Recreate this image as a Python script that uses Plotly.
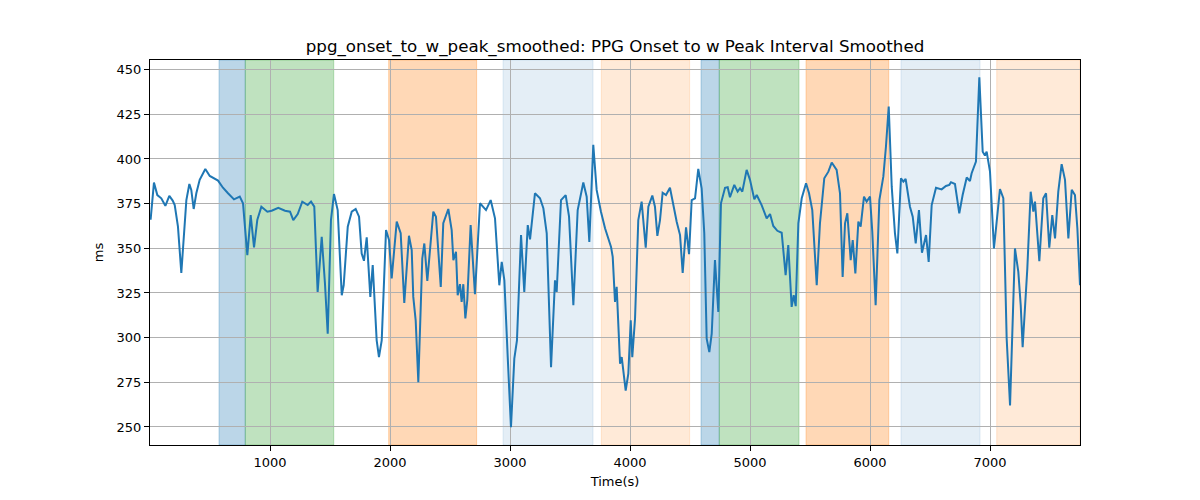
import plotly.graph_objects as go

# Time (s) and smoothed interval values (ms)
time_s = [5, 33, 61, 94, 128, 161, 189, 206, 233, 261, 303, 328, 344, 364, 386, 414, 461, 498, 567, 608,
          650, 700, 748, 775, 811, 839, 867, 894, 928, 978, 1014, 1069, 1125, 1167, 1194, 1231, 1269, 1314, 1342, 1369,
          1397, 1431, 1458, 1481, 1508, 1533, 1564, 1598, 1614, 1648, 1681, 1714, 1742, 1764, 1783, 1806, 1836, 1856, 1889, 1908,
          1931, 1967, 1992, 2014, 2056, 2089, 2119, 2158, 2181, 2194, 2214, 2236, 2269, 2286, 2311, 2328, 2361, 2383, 2423, 2444,
          2486, 2514, 2528, 2550, 2564, 2583, 2597, 2611, 2628, 2644, 2672, 2708, 2750, 2800, 2839, 2875, 2911, 2931, 2953, 2981,
          3008, 3036, 3058, 3092, 3119, 3148, 3167, 3208, 3250, 3278, 3306, 3342, 3375, 3389, 3425, 3464, 3492, 3528, 3564, 3611,
          3639, 3661, 3694, 3722, 3758, 3792, 3842, 3856, 3875, 3889, 3917, 3931, 3944, 3964, 3986, 4006, 4019, 4042, 4069, 4097,
          4131, 4153, 4186, 4208, 4228, 4250, 4272, 4300, 4333, 4361, 4389, 4417, 4439, 4467, 4492, 4514, 4542, 4569, 4597, 4619,
          4639, 4661, 4681, 4708, 4736, 4758, 4792, 4814, 4833, 4869, 4897, 4917, 4936, 4972, 5000, 5036, 5056, 5097, 5139, 5167,
          5194, 5228, 5264, 5297, 5319, 5347, 5364, 5381, 5403, 5431, 5467, 5492, 5519, 5556, 5583, 5619, 5653, 5681, 5722, 5750,
          5772, 5792, 5811, 5839, 5856, 5878, 5903, 5922, 5950, 5972, 6000, 6019, 6047, 6078, 6111, 6133, 6156, 6181, 6208, 6228,
          6250, 6258, 6278, 6297, 6333, 6356, 6381, 6408, 6433, 6453, 6467, 6489, 6514, 6550, 6597, 6633, 6661, 6675, 6708, 6744,
          6772, 6806, 6833, 6847, 6883, 6911, 6939, 6958, 6972, 7000, 7033, 7050, 7083, 7111, 7139, 7167, 7208, 7236, 7256, 7272,
          7294, 7311, 7339, 7361, 7375, 7411, 7444, 7467, 7494, 7519, 7542, 7569, 7597, 7625, 7653, 7681, 7708, 7728, 7750]

interval_ms = [366.0, 386.8, 379.8, 378.0, 373.8, 379.3, 376.7, 374.2, 362.1, 336.2, 377.0, 386.0, 382.7, 372.0, 380.8, 388.3, 394.4, 390.5, 387.9, 383.9,
               380.8, 377.4, 378.9, 375.2, 346.2, 368.6, 350.5, 365.8, 373.3, 370.5, 371.0, 372.7, 371.0, 370.5, 365.8, 369.2, 376.1, 374.2, 376.1, 373.3,
               325.6, 356.4, 330.3, 302.2, 365.8, 380.4, 371.4, 323.7, 329.3, 362.1, 370.5, 372.0, 367.7, 347.1, 343.0, 356.1, 322.8, 340.6, 298.5, 289.1,
               298.5, 360.2, 354.6, 333.1, 364.9, 358.4, 319.4, 357.0, 349.0, 322.8, 309.7, 275.1, 344.3, 352.7, 331.8, 343.9, 370.5, 367.7, 328.4, 364.0,
               372.0, 360.2, 343.4, 348.0, 323.7, 329.9, 320.0, 329.9, 310.7, 320.9, 363.0, 324.3, 375.2, 371.4, 377.0, 366.8, 329.3, 342.4, 332.1, 289.1,
               249.8, 288.2, 298.5, 357.4, 325.6, 363.0, 355.0, 380.8, 378.0, 372.4, 358.4, 283.5, 332.1, 325.6, 377.0, 379.8, 367.7, 318.1, 371.4, 386.8,
               378.9, 353.6, 407.9, 382.7, 370.5, 361.2, 350.8, 345.2, 320.0, 328.4, 285.4, 289.1, 281.6, 270.4, 279.8, 309.7, 289.1, 310.7, 365.8, 376.1,
               350.3, 373.3, 379.5, 373.3, 357.0, 365.8, 381.1, 379.8, 383.9, 373.3, 364.9, 357.4, 336.2, 361.7, 346.7, 377.0, 378.0, 394.4, 383.6, 358.4,
               299.4, 291.9, 302.2, 343.4, 314.4, 375.2, 383.9, 384.2, 378.6, 385.5, 381.7, 383.6, 381.7, 393.9, 388.3, 377.4, 379.8, 374.2, 366.8, 369.2,
               362.5, 359.8, 358.7, 335.0, 351.8, 317.2, 323.7, 317.6, 364.0, 378.0, 386.4, 380.8, 371.4, 329.3, 364.0, 389.2, 392.9, 398.0, 393.9, 380.8,
               334.0, 364.0, 369.6, 343.4, 354.6, 335.9, 364.9, 362.1, 378.9, 376.1, 378.9, 359.3, 318.1, 377.0, 390.1, 407.0, 429.4, 384.5, 358.4, 347.1,
               384.5, 389.2, 387.3, 388.8, 373.3, 367.7, 352.7, 371.4, 347.5, 354.6, 357.4, 342.4, 374.2, 383.9, 383.0, 384.9, 385.5, 387.0, 386.0, 369.6,
               379.8, 389.6, 387.7, 392.0, 398.5, 445.7, 404.1, 401.9, 404.1, 392.9, 349.9, 361.2, 383.2, 378.0, 299.4, 262.0, 349.9, 336.8, 318.1, 294.7,
               321.9, 338.7, 381.7, 370.5, 376.1, 342.8, 378.0, 380.8, 350.3, 368.6, 355.5, 381.7, 397.1, 388.3, 355.5, 382.7, 379.8, 361.2, 329.3]

# Shaded segments
span_start = [575, 794, 1989, 2942, 3761, 4592, 4744, 5467, 6258, 7056]
span_end = [794, 1531, 2722, 3692, 4497, 4744, 5408, 6156, 6917, 7750]
span_rgb = ["31,119,180", "44,160,44", "255,127,14", "31,119,180", "255,127,14",
            "31,119,180", "44,160,44", "255,127,14", "31,119,180", "255,127,14"]
span_alpha = [0.3, 0.3, 0.3, 0.12, 0.16, 0.3, 0.3, 0.3, 0.12, 0.16]

x_ticks = [1000, 2000, 3000, 4000, 5000, 6000, 7000]
y_ticks = [250, 275, 300, 325, 350, 375, 400, 425, 450]

fig = go.Figure()

for s, e, c, a in zip(span_start, span_end, span_rgb, span_alpha):
    fig.add_shape(type="rect", xref="x", yref="paper", x0=s, x1=e, y0=0, y1=1,
                  fillcolor=f"rgba({c},{a})", line=dict(color=f"rgba({c},{a})", width=1),
                  layer="below")

fig.add_trace(go.Scatter(x=time_s, y=interval_ms, mode="lines",
                         line=dict(color="#1f77b4", width=2), showlegend=False))

font_family = "DejaVu Sans"
fig.update_layout(
    width=1200, height=500,
    paper_bgcolor="white", plot_bgcolor="white",
    margin=dict(l=142, r=128, t=52, b=63),
    font=dict(family=font_family, size=13, color="black"),
    title=dict(text="ppg_onset_to_w_peak_smoothed: PPG Onset to w Peak Interval Smoothed",
               x=0.5, xref="paper", xanchor="center",
               y=1 - 38 / 500, yref="container", yanchor="middle",
               font=dict(family=font_family, size=16.7, color="black")),
)
fig.update_xaxes(range=[0, 7750], tickvals=x_ticks, ticktext=[str(v) for v in x_ticks],
                 showgrid=True, gridcolor="#b0b0b0", gridwidth=1,
                 showline=True, linecolor="black", linewidth=1, mirror=True,
                 ticks="outside", ticklen=5, tickcolor="black", zeroline=False,
                 title=dict(text="Time(s)", font=dict(size=13), standoff=8))
fig.update_yaxes(range=[239.9, 455.4], tickvals=y_ticks, ticktext=[str(v) for v in y_ticks],
                 showgrid=True, gridcolor="#b0b0b0", gridwidth=1,
                 showline=True, linecolor="black", linewidth=1, mirror=True,
                 ticks="outside", ticklen=5, tickcolor="black", zeroline=False,
                 title=dict(text="ms", font=dict(size=13), standoff=10))

fig.write_html("out.html")
